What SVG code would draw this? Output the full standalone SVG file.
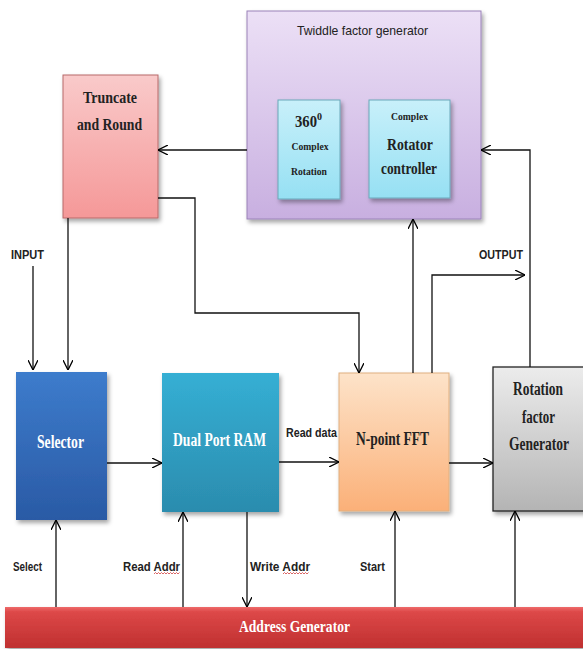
<svg xmlns="http://www.w3.org/2000/svg" width="583" height="649" viewBox="0 0 583 649">
<defs>
<linearGradient id="gTw" x1="0" y1="0" x2="0" y2="1"><stop offset="0" stop-color="#ece0f6"/><stop offset="1" stop-color="#c8afe0"/></linearGradient>
<linearGradient id="gIn" x1="0" y1="0" x2="0" y2="1"><stop offset="0" stop-color="#c8f0fa"/><stop offset="1" stop-color="#96e0f3"/></linearGradient>
<linearGradient id="gTr" x1="0" y1="0" x2="0" y2="1"><stop offset="0" stop-color="#f9caca"/><stop offset="1" stop-color="#f59898"/></linearGradient>
<linearGradient id="gSel" x1="0" y1="0" x2="0" y2="1"><stop offset="0" stop-color="#3d7ccc"/><stop offset="1" stop-color="#2a5aa5"/></linearGradient>
<linearGradient id="gRam" x1="0" y1="0" x2="0" y2="1"><stop offset="0" stop-color="#35afd4"/><stop offset="1" stop-color="#2b8cae"/></linearGradient>
<linearGradient id="gFft" x1="0" y1="0" x2="0" y2="1"><stop offset="0" stop-color="#fde3c9"/><stop offset="1" stop-color="#fbb078"/></linearGradient>
<linearGradient id="gRot" x1="0" y1="0" x2="0" y2="1"><stop offset="0" stop-color="#ececec"/><stop offset="1" stop-color="#b4b4b4"/></linearGradient>
<linearGradient id="gAdr" x1="0" y1="0" x2="0" y2="1"><stop offset="0" stop-color="#ee6a6a"/><stop offset="0.12" stop-color="#dd4848"/><stop offset="1" stop-color="#bf3030"/></linearGradient>
<filter id="sh" x="-10%" y="-10%" width="125%" height="125%"><feDropShadow dx="2" dy="3" stdDeviation="2" flood-color="#000" flood-opacity="0.35"/></filter>
<marker id="ah" viewBox="0 0 10 10" refX="10" refY="5" markerWidth="10" markerHeight="10" markerUnits="userSpaceOnUse" orient="auto"><path d="M0,0 L10,5 L0,10" fill="none" stroke="#000" stroke-width="1.3"/></marker>
</defs>
<style>
.c{fill:none;stroke:#111;stroke-width:1.3}
.a{marker-end:url(#ah)}
.sans{font-family:"Liberation Sans",Arial,sans-serif;font-weight:bold;font-size:12px;fill:#222}
.ser{font-family:"Liberation Serif","Times New Roman",serif;font-weight:bold;fill:#222;text-anchor:middle}
.w{fill:#fff}
</style>
<rect width="583" height="649" fill="#fff"/>

<g id="twiddle">
<rect x="247" y="11" width="234" height="208" fill="url(#gTw)" stroke="#9a82b8" stroke-width="1" filter="url(#sh)"/>
<text x="297" y="35" class="sans" style="font-weight:normal;font-size:13px" textLength="131" lengthAdjust="spacingAndGlyphs">Twiddle factor generator</text>
</g>
<g id="rotation360">
<rect x="278" y="100" width="62" height="99" fill="url(#gIn)" stroke="#6aa8ba" stroke-width="1" filter="url(#sh)"/>
<text x="295" y="127" class="ser" style="text-anchor:start" font-size="17"><tspan textLength="22" lengthAdjust="spacingAndGlyphs">360</tspan><tspan font-size="10" dy="-7">0</tspan></text>
<text x="310" y="150" class="ser" font-size="11" textLength="37" lengthAdjust="spacingAndGlyphs">Complex</text>
<text x="309" y="175" class="ser" font-size="11" textLength="36" lengthAdjust="spacingAndGlyphs">Rotation</text>
</g>
<g id="rotatorController">
<rect x="369" y="100" width="81" height="98" fill="url(#gIn)" stroke="#6aa8ba" stroke-width="1" filter="url(#sh)"/>
<text x="409.5" y="120" class="ser" font-size="11" textLength="37" lengthAdjust="spacingAndGlyphs">Complex</text>
<text x="410" y="150" class="ser" font-size="17" textLength="46" lengthAdjust="spacingAndGlyphs">Rotator</text>
<text x="409" y="174" class="ser" font-size="17" textLength="56" lengthAdjust="spacingAndGlyphs">controller</text>
</g>

<g id="truncate">
<rect x="63" y="75" width="95" height="143" fill="url(#gTr)" stroke="#b86a6a" stroke-width="1" filter="url(#sh)"/>
<text x="110" y="103" class="ser" font-size="17" textLength="54" lengthAdjust="spacingAndGlyphs">Truncate</text>
<text x="109.5" y="130" class="ser" font-size="17" textLength="65" lengthAdjust="spacingAndGlyphs">and Round</text>
</g>

<g id="selector">
<rect x="16" y="372" width="91" height="148" fill="url(#gSel)" filter="url(#sh)"/>
<text x="60.5" y="448" class="ser w" font-size="18" textLength="47" lengthAdjust="spacingAndGlyphs">Selector</text>
</g>

<g id="ram">
<rect x="162" y="373" width="117" height="139" fill="url(#gRam)" filter="url(#sh)"/>
<text x="219.5" y="446" class="ser w" font-size="18" textLength="93" lengthAdjust="spacingAndGlyphs">Dual Port RAM</text>
</g>

<g id="fft">
<rect x="339" y="373" width="110" height="138" fill="url(#gFft)" stroke="#e0b080" stroke-width="1" filter="url(#sh)"/>
<text x="392.5" y="445" class="ser" font-size="18" textLength="73" lengthAdjust="spacingAndGlyphs">N-point FFT</text>
</g>

<g id="rotationFactor">
<rect x="493" y="367" width="95" height="144" fill="url(#gRot)" stroke="#222" stroke-width="1.3" filter="url(#sh)"/>
<text x="538" y="395" class="ser" font-size="18" textLength="50" lengthAdjust="spacingAndGlyphs">Rotation</text>
<text x="538.5" y="423" class="ser" font-size="18" textLength="33" lengthAdjust="spacingAndGlyphs">factor</text>
<text x="539" y="450" class="ser" font-size="18" textLength="60" lengthAdjust="spacingAndGlyphs">Generator</text>
</g>

<g id="addressGenerator">
<rect x="5" y="607" width="585" height="41" fill="url(#gAdr)" filter="url(#sh)"/>
<text x="294.5" y="632" class="ser w" font-size="17" textLength="111" lengthAdjust="spacingAndGlyphs">Address Generator</text>
</g>

<g id="connectors">
<path class="c a" d="M247,150 H158"/>
<path class="c a" d="M530,367 V150 H481"/>
<path class="c a" d="M413,373 V219"/>
<path class="c a" d="M432,373 V275 H525"/>
<path class="c a" d="M158,198 H195 V313 H359 V373"/>
<path class="c a" d="M68,218 V370"/>
<path class="c a" d="M33,266 V370"/>
<path class="c a" d="M107,463 H162"/>
<path class="c a" d="M279,462 H339"/>
<path class="c a" d="M449,463 H493"/>
<path class="c a" d="M56,607 V520"/>
<path class="c a" d="M183,607 V512"/>
<path class="c a" d="M247,512 V607"/>
<path class="c a" d="M395,607 V511"/>
<path class="c a" d="M515,607 V511"/>
</g>

<g id="labels">
<text x="11" y="259" class="sans" textLength="33" lengthAdjust="spacingAndGlyphs">INPUT</text>
<text x="479" y="259" class="sans" textLength="44" lengthAdjust="spacingAndGlyphs">OUTPUT</text>
<text x="286" y="437" class="sans" textLength="51" lengthAdjust="spacingAndGlyphs">Read data</text>
<text x="13" y="571" class="sans" textLength="29" lengthAdjust="spacingAndGlyphs">Select</text>
<text x="123" y="571" class="sans" textLength="57" lengthAdjust="spacingAndGlyphs">Read Addr</text>
<text x="250" y="571" class="sans" textLength="60" lengthAdjust="spacingAndGlyphs">Write Addr</text>
<text x="360" y="571" class="sans" textLength="25" lengthAdjust="spacingAndGlyphs">Start</text>
<path d="M154,574 l1.5,-1.5 l1.5,1.5 l1.5,-1.5 l1.5,1.5 l1.5,-1.5 l1.5,1.5 l1.5,-1.5 l1.5,1.5 l1.5,-1.5 l1.5,1.5 l1.5,-1.5 l1.5,1.5 l1.5,-1.5 l1.5,1.5 l1.5,-1.5 l1.5,1.5 l1.5,-1.5" fill="none" stroke="#d04040" stroke-width="0.8"/>
<path d="M283,574 l1.5,-1.5 l1.5,1.5 l1.5,-1.5 l1.5,1.5 l1.5,-1.5 l1.5,1.5 l1.5,-1.5 l1.5,1.5 l1.5,-1.5 l1.5,1.5 l1.5,-1.5 l1.5,1.5 l1.5,-1.5 l1.5,1.5 l1.5,-1.5 l1.5,1.5 l1.5,-1.5" fill="none" stroke="#d04040" stroke-width="0.8"/>
</g>
</svg>
